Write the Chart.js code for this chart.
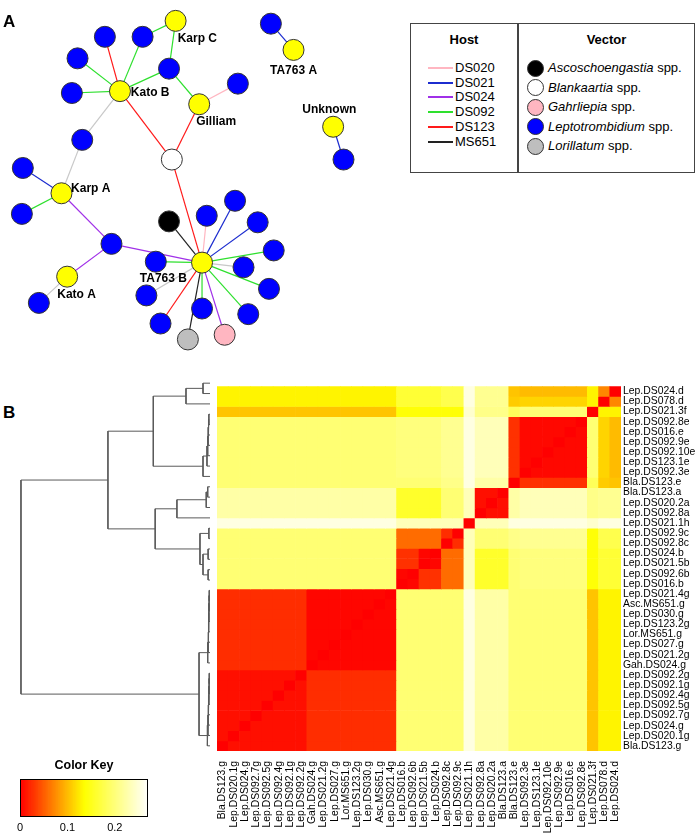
<!DOCTYPE html>
<html><head><meta charset="utf-8">
<script src="https://cdn.jsdelivr.net/npm/chart.js@4.4.1/dist/chart.umd.min.js"></script>
<style>
body{margin:0;width:700px;height:838px;position:relative;background:#fff;font-family:"Liberation Sans",Arial,sans-serif;overflow:hidden}
canvas{position:absolute}
.pl{position:absolute;font-weight:bold;font-size:17px;line-height:1}
#legend{position:absolute;left:410px;top:23px;width:285px;height:150px;border:1.5px solid #444;box-sizing:border-box}
#legend .div{position:absolute;left:106px;top:0;width:1.5px;height:100%;background:#444}
#legend .hd{position:absolute;top:8px;font-weight:bold;font-size:13px;text-align:center}
#legend .it{position:absolute;font-size:13px;line-height:1;white-space:nowrap}
#legend .ln{position:absolute;height:2px}
#legend .dot{position:absolute;width:17px;height:17px;border-radius:50%;border:1px solid #333;box-sizing:border-box}
</style></head><body>
<canvas id="net" width="405" height="365" style="left:0;top:0;width:405px;height:365px"></canvas>
<div id="legend"></div>
<div class="pl" style="left:3px;top:13px">A</div>
<div class="pl" style="left:3px;top:404px">B</div>
<canvas id="dend" width="217" height="373" style="left:0;top:378px;width:217px;height:373px"></canvas>
<canvas id="heat" width="483" height="460" style="left:217px;top:378px;width:483px;height:460px"></canvas>
<canvas id="key" width="150" height="80" style="left:8px;top:756px;width:150px;height:80px"></canvas>
<script>
// ---------------- Panel A data ----------------
const hostNames = ['Karp C','Kato B','Gilliam','Karp A','Kato A','TA763 B','TA763 A','Unknown'];
const nodeKind = ['host','host','host','host','host','host','host','host','Bla',
  'Lep','Lep','Lep','Lep','Lep','Lep','Lep','Lep','Lep','Lep','Lep','Lep','Asc',
  'Lep','Lep','Lep','Lep','Lep','Lep','Lep','Lep','Lep','Lep','Lor','Gah','Lep','Lep'];
// network layout
const nodeLayoutX = [174,115,199,53,59,202,299,341,170, 99,139,70,167,64,240,75,12,11,106,29,153,167, 207,237,261,278,246,273,251,202,143,158,187,226,275,352];
const nodeLayoutY = [10,85,99,194,283,268,41,123,158, 27,27,50,61,87,77,137,167,216,248,311,267,224, 218,202,225,255,273,296,323,317,303,333,350,345,13,158];
const edges = [[0,10,'DS092'],[0,12,'DS092'],[1,9,'DS123'],[1,10,'DS092'],[1,11,'DS092'],[1,12,'DS092'],[1,13,'DS092'],
  [1,15,'other'],[1,8,'DS123'],[12,2,'DS092'],[2,14,'DS020'],[2,8,'DS123'],[8,5,'DS123'],[15,3,'other'],[3,16,'DS021'],
  [3,17,'DS092'],[3,18,'DS024'],[18,4,'DS024'],[4,19,'other'],[18,5,'DS024'],[5,20,'DS092'],[5,21,'MS651'],[5,22,'DS020'],
  [5,23,'DS021'],[5,24,'DS021'],[5,25,'DS092'],[5,26,'other'],[5,27,'DS092'],[5,28,'DS092'],[5,29,'DS092'],[5,30,'other'],
  [5,31,'DS123'],[5,32,'MS651'],[5,33,'DS024'],[6,34,'DS021'],[7,35,'DS021']];
const hostLegend = ['DS020','DS021','DS024','DS092','DS123','MS651'];
const vectorLegend = ['Ascoschoengastia','Blankaartia','Gahrliepia','Leptotrombidium','Lorillatum'];
const vectorCodes = ['Asc','Bla','Gah','Lep','Lor'];
const hostLabelX = [197,147,217,84,69,161,299,337];
const hostLabelY = [29,87,118,189,302,285,63,105];

// ---------------- Panel B data ----------------
const rowLabels = ['Lep.DS024.d','Lep.DS078.d','Lep.DS021.3f','Lep.DS092.8e','Lep.DS016.e','Lep.DS092.9e','Lep.DS092.10e',
  'Lep.DS123.1e','Lep.DS092.3e','Bla.DS123.e','Bla.DS123.a','Lep.DS020.2a','Lep.DS092.8a','Lep.DS021.1h','Lep.DS092.9c',
  'Lep.DS092.8c','Lep.DS024.b','Lep.DS021.5b','Lep.DS092.6b','Lep.DS016.b','Lep.DS021.4g','Asc.MS651.g','Lep.DS030.g',
  'Lep.DS123.2g','Lor.MS651.g','Lep.DS027.g','Lep.DS021.2g','Gah.DS024.g','Lep.DS092.2g','Lep.DS092.1g','Lep.DS092.4g',
  'Lep.DS092.5g','Lep.DS092.7g','Lep.DS024.g','Lep.DS020.1g','Bla.DS123.g'];
const colLabels = ['Bla.DS123.g','Lep.DS020.1g','Lep.DS024.g','Lep.DS092.7g','Lep.DS092.5g','Lep.DS092.4g','Lep.DS092.1g',
  'Lep.DS092.2g','Gah.DS024.g','Lep.DS021.2g','Lep.DS027.g','Lor.MS651.g','Lep.DS123.2g','Lep.DS030.g','Asc.MS651.g',
  'Lep.DS021.4g','Lep.DS016.b','Lep.DS092.6b','Lep.DS021.5b','Lep.DS024.b','Lep.DS092.8c','Lep.DS092.9c','Lep.DS021.1h',
  'Lep.DS092.8a','Lep.DS020.2a','Bla.DS123.a','Bla.DS123.e','Lep.DS092.3e','Lep.DS123.1e','Lep.DS092.10e','Lep.DS092.9e',
  'Lep.DS016.e','Lep.DS092.8e','Lep.DS021.3f','Lep.DS078.d','Lep.DS024.d'];
// cluster of each row (blocks)
const rowGroup = [0,1,2,3,3,3,3,3,3,4,5,5,5,6,7,7,8,8,9,9,10,10,10,10,10,10,10,10,11,11,11,11,11,11,11,11];
// estimated distance between clusters (read through the colour key)
const groupDist = [
 [0,    .071, .129, .099, .104, .212, .254, .176, .163, .163, .129, .129],
 [.071, 0,    .129, .112, .108, .212, .254, .176, .163, .163, .129, .129],
 [.129, .129, 0,    .196, .182, .207, .244, .138, .138, .138, .104, .104],
 [.099, .112, .196, .004, .026, .233, .254, .212, .201, .201, .196, .196],
 [.104, .108, .182, .026, 0,    .223, .254, .207, .196, .196, .196, .196],
 [.212, .212, .207, .233, .223, .008, .233, .196, .158, .158, .223, .223],
 [.254, .254, .244, .254, .254, .233, 0,    .233, .233, .233, .254, .254],
 [.176, .176, .138, .212, .207, .196, .233, .024, .057, .057, .196, .196],
 [.163, .163, .138, .201, .196, .158, .233, .057, .003, .026, .196, .196],
 [.163, .163, .138, .201, .196, .158, .233, .057, .026, .003, .196, .196],
 [.129, .129, .104, .196, .196, .223, .254, .196, .196, .196, .003, .024],
 [.129, .129, .104, .196, .196, .223, .254, .196, .196, .196, .024, .008]];
// row dendrogram (hclust style: negative = leaf row, positive = earlier merge)
const dendMerge = [[-1,-2],[1,-3],[-4,-5],[3,-6],[4,-7],[5,-8],[6,-9],[7,-10],[2,8],[-11,-12],[10,-13],[11,-14],
  [-15,-16],[-17,-18],[-19,-20],[14,15],[13,16],[12,17],[9,18],[-21,-22],[20,-23],[21,-24],[22,-25],[23,-26],[24,-27],
  [25,-28],[-29,-30],[27,-31],[28,-32],[29,-33],[30,-34],[31,-35],[32,-36],[26,33],[19,34]];
const dendHeight = [.037,.127,.006,.008,.010,.012,.016,.037,.30,.012,.02,.175,.006,.01,.01,.037,.053,.29,.54,
  .004,.005,.006,.007,.008,.009,.012,.004,.005,.006,.008,.009,.011,.014,.058,1.0];
const keyTicks = [0, 0.1, 0.2];
const keyMin = 0, keyMax = 0.27;

// ---------------- styles ----------------
const FONT = '"Liberation Sans", Arial, sans-serif';
const hostColor = {DS020:'#ffb6c1',DS021:'#1c2ccf',DS024:'#a030e8',DS092:'#2ee02e',DS123:'#ff1a1a',MS651:'#222222',other:'#c8c8c8'};
const vecColor = {host:'#ffff00',Asc:'#000000',Bla:'#ffffff',Gah:'#ffb6c1',Lep:'#0000ff',Lor:'#bebebe'};
const keyStops = [[0,[255,0,0]],[0.5,[255,255,0]],[1,[255,255,255]]];
function heatColor(v){
  let t = Math.max(0, Math.min(1, (v - keyMin) / (keyMax - keyMin)));
  for (let i = 1; i < keyStops.length; i++){
    if (t <= keyStops[i][0]){
      const [t0,c0] = keyStops[i-1], [t1,c1] = keyStops[i];
      const f = (t - t0) / (t1 - t0);
      const c = c0.map((a,k)=>Math.round(a + (c1[k]-a)*f));
      return `rgb(${c[0]},${c[1]},${c[2]})`;
    }
  }
  return 'rgb(255,255,255)';
}

// ---------------- legend (HTML) ----------------
(function(){
  const L = document.getElementById('legend');
  let h = '<div class="div"></div>';
  h += '<div class="hd" style="left:0;width:106px">Host</div><div class="hd" style="left:107px;width:177px">Vector</div>';
  hostLegend.forEach((d,i)=>{
    const y = 44 + i*14.7;
    h += `<div class="ln" style="left:17px;top:${y-1}px;width:25px;background:${hostColor[d]}"></div>`;
    h += `<div class="it" style="left:44px;top:${y-7}px">${d}</div>`;
  });
  vectorLegend.forEach((d,i)=>{
    const y = 44 + i*19.5;
    h += `<div class="dot" style="left:116px;top:${y-8.5}px;background:${vecColor[vectorCodes[i]]}"></div>`;
    h += `<div class="it" style="left:137px;top:${y-7}px"><i>${d}</i> spp.</div>`;
  });
  L.innerHTML = h;
})();

// ---------------- network chart ----------------
const netDatasets = [];
netDatasets.push({
  label:'nodes', order:0, clip:false,
  data: nodeLayoutX.map((x,i)=>({x, y:nodeLayoutY[i]})),
  pointRadius:10.5, pointHoverRadius:10.5, pointBorderWidth:1, pointBorderColor:'#333',
  pointBackgroundColor: nodeKind.map(k=>vecColor[k])
});
edges.forEach(([a,b,h])=>{
  netDatasets.push({label:h, order:1, clip:false, showLine:true, pointRadius:0, borderWidth:1.2,
    borderColor:hostColor[h], data:[{x:nodeLayoutX[a],y:nodeLayoutY[a]},{x:nodeLayoutX[b],y:nodeLayoutY[b]}]});
});
const nodeLabelPlugin = {id:'nodeLabels', afterDatasetsDraw(chart){
  const {ctx, scales:{x,y}} = chart;
  ctx.save(); ctx.font = 'bold 12px '+FONT; ctx.fillStyle = '#000';
  ctx.textAlign = 'center'; ctx.textBaseline = 'middle';
  hostNames.forEach((n,i)=>ctx.fillText(n, x.getPixelForValue(hostLabelX[i]), y.getPixelForValue(hostLabelY[i])));
  ctx.restore();
}};
new Chart(document.getElementById('net'), {
  type:'scatter', data:{datasets:netDatasets},
  options:{responsive:false, animation:false, events:[], layout:{padding:0},
    plugins:{legend:{display:false}, tooltip:{enabled:false}},
    scales:{x:{type:'linear',min:0,max:405,display:false}, y:{type:'linear',min:0,max:365,reverse:true,display:false}}},
  plugins:[nodeLabelPlugin]
});

// ---------------- dendrogram chart ----------------
const nodePos = []; // [height, yCenter]
function childPos(c){ return c < 0 ? [0, -c - 0.5] : nodePos[c-1]; }
const dendDatasets = dendMerge.map((m,i)=>{
  const a = childPos(m[0]), b = childPos(m[1]), h = dendHeight[i];
  nodePos.push([h, (a[1]+b[1])/2]);
  return {data:[{x:a[0],y:a[1]},{x:h,y:a[1]},{x:h,y:b[1]},{x:b[0],y:b[1]}], showLine:true, pointRadius:0,
    borderColor:'#5a5a5a', borderWidth:1, clip:false};
});
new Chart(document.getElementById('dend'), {
  type:'scatter', data:{datasets:dendDatasets},
  options:{responsive:false, animation:false, events:[], layout:{padding:{right:7,left:0,top:0,bottom:0}},
    plugins:{legend:{display:false}, tooltip:{enabled:false}},
    scales:{x:{type:'linear',min:0,max:1.111,reverse:true,display:false}, y:{type:'linear',min:0,max:36,reverse:true,display:false}}}
});

// ---------------- heat map chart ----------------
function cellValue(i, j){
  const k = rowLabels.indexOf(colLabels[j]);
  if (k === i) return 0;
  return groupDist[rowGroup[i]][rowGroup[k]];
}
const heatDatasets = rowLabels.map((r,i)=>({
  label:r, data: colLabels.map(()=>1),
  backgroundColor: colLabels.map((c,j)=>heatColor(cellValue(i,j))),
  borderWidth:0, barPercentage:1, categoryPercentage:1
}));
new Chart(document.getElementById('heat'), {
  type:'bar', data:{labels:colLabels, datasets:heatDatasets},
  options:{responsive:false, animation:false, events:[], layout:{padding:0},
    plugins:{legend:{display:false}, tooltip:{enabled:false}},
    scales:{
      x:{stacked:true, grid:{display:false}, border:{display:false},
        ticks:{autoSkip:false, minRotation:90, maxRotation:90, padding:2, color:'#000', font:{family:FONT,size:10.4}},
        afterFit(s){ s.height = 87; }},
      y:{stacked:true, position:'right', min:0, max:36, reverse:true, grid:{display:false, drawTicks:false}, border:{display:false},
        afterBuildTicks(s){ s.ticks = rowLabels.map((_,i)=>({value:i+0.5})); },
        ticks:{autoSkip:false, padding:2, color:'#000', font:{family:FONT,size:10.4}, callback:(v,i)=>rowLabels[i]},
        afterFit(s){ s.width = 79; }}
    }}
});

// ---------------- colour key ----------------
const keyBins = [];
for (let v = keyMin; v < keyMax - 1e-9; v += 0.003) keyBins.push(v);
const keyBox = {id:'keyBox', afterDatasetsDraw(chart){
  const {ctx, chartArea:a} = chart; ctx.save(); ctx.strokeStyle='#000'; ctx.lineWidth=1;
  ctx.strokeRect(Math.round(a.left)+0.5, Math.round(a.top)+0.5, Math.round(a.width)-1, Math.round(a.height)-1); ctx.restore();
}};
new Chart(document.getElementById('key'), {
  type:'bar',
  data:{labels:['key'], datasets:keyBins.map(v=>({data:[[v, Math.min(keyMax, v+0.0032)]], backgroundColor:heatColor(v+0.0015),
    borderWidth:0, barPercentage:1, categoryPercentage:1, grouped:false}))},
  options:{indexAxis:'y', responsive:false, animation:false, events:[], layout:{padding:{left:12,right:10,top:0,bottom:0}},
    plugins:{legend:{display:false}, tooltip:{enabled:false},
      title:{display:true, text:'Color Key', color:'#000', font:{family:FONT,size:12.5,weight:'bold'}, padding:{top:2,bottom:6}}},
    scales:{
      x:{type:'linear', min:keyMin, max:keyMax, afterBuildTicks(s){ s.ticks = keyTicks.map(v=>({value:v})); },
        grid:{display:false, drawTicks:true, tickLength:4}, border:{display:false},
        ticks:{color:'#000', padding:1, font:{family:FONT,size:11}, callback:v=>String(v)}},
      y:{display:false}
    }},
  plugins:[keyBox]
});
</script>
</body></html>
